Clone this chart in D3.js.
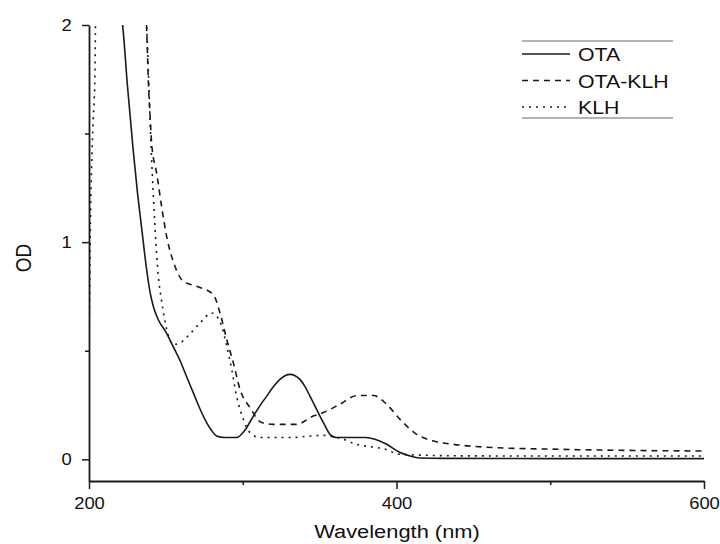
<!DOCTYPE html>
<html>
<head>
<meta charset="utf-8">
<script src="https://cdn.jsdelivr.net/npm/d3@7"></script>
<style>
  html, body { margin: 0; padding: 0; background: #fff; }
  svg { display: block; }
  text { font-family: "Liberation Sans", Arial, sans-serif; fill: #111; }
</style>
</head>
<body>
<svg id="chart" width="720" height="544"></svg>
<script>
// ---- data (wavelength nm, OD) ----
const seriesNames = ["OTA", "OTA-KLH", "KLH"];

const otaWavelength = [220, 222, 225, 228.6, 231.5, 234.5, 237, 239.7, 242, 245, 250.5, 255, 259.2, 263.5, 267.8, 272, 276.5, 280, 283, 288, 296, 301, 306.9, 311, 315.6, 320, 324.2, 327.5, 330.7, 334, 337.2, 340.5, 343.7, 347, 350.2, 353.5, 356.7, 361, 370, 380, 386, 393.6, 402, 408.8, 415, 430, 500, 600];
const otaOD = [2.1, 1.99, 1.72, 1.434, 1.23, 1.05, 0.9, 0.77, 0.7, 0.644, 0.58, 0.515, 0.455, 0.38, 0.307, 0.235, 0.169, 0.13, 0.107, 0.10, 0.10, 0.13, 0.199, 0.245, 0.291, 0.335, 0.368, 0.385, 0.391, 0.385, 0.368, 0.335, 0.291, 0.245, 0.199, 0.155, 0.115, 0.10, 0.10, 0.10, 0.092, 0.069, 0.032, 0.015, 0.006, 0.004, 0.003, 0.003];

const otaKlhWavelength = [236.5, 237.5, 238.6, 239.7, 240.8, 244, 247.2, 250.5, 255.9, 261.3, 270, 280.8, 285.2, 289.6, 293.9, 298.2, 304.7, 312.3, 319.9, 335, 345.9, 352.4, 363, 374, 385, 393.6, 402.3, 413.1, 424, 437, 463, 506, 600];
const otaKlhOD = [2.1, 1.985, 1.74, 1.586, 1.45, 1.318, 1.165, 1.027, 0.889, 0.82, 0.797, 0.759, 0.674, 0.552, 0.444, 0.322, 0.238, 0.169, 0.161, 0.161, 0.199, 0.215, 0.253, 0.293, 0.294, 0.253, 0.184, 0.115, 0.084, 0.069, 0.054, 0.046, 0.038];

const klhWavelength = [200, 200.7, 202.6, 203.8, 204.3, 205, 236, 237.5, 240.5, 243, 245, 247.2, 250.5, 254.8, 259.2, 265.7, 272.2, 279.8, 283, 286.3, 289.6, 292.8, 296, 300.4, 304.7, 311.2, 330.7, 343.7, 352, 365.4, 374, 382.8, 391.4, 402.3, 421.8, 439, 500, 600];
const klhOD = [0.47, 0.97, 1.54, 1.75, 2.05, 2.2, 2.2, 1.99, 1.42, 1.06, 0.85, 0.73, 0.6, 0.529, 0.536, 0.578, 0.628, 0.674, 0.659, 0.613, 0.521, 0.414, 0.291, 0.184, 0.123, 0.10, 0.10, 0.107, 0.11, 0.092, 0.069, 0.058, 0.049, 0.023, 0.018, 0.016, 0.015, 0.015];

const xMajorTicks = [200, 400, 600];
const xMinorTicks = [300, 500];
const yMajorTicks = [0, 1, 2];
const yMinorTicks = [0.5, 1.5];

// ---- layout ----
const svg = d3.select("#chart");
const plotLeft = 89, plotRight = 704, plotTop = 25, plotBottom = 481;
const stretch = 1.15;

const x = d3.scaleLinear().domain([200, 600]).range([plotLeft, plotRight]);
const y = d3.scaleLinear().domain([-0.1, 2]).range([plotBottom, plotTop]);

// ---- axes ----
svg.append("g").attr("transform", `translate(0,${plotBottom})`)
  .call(d3.axisBottom(x).tickValues(xMajorTicks).tickFormat(d3.format("d")).tickSize(8).tickSizeOuter(0).tickPadding(9));
const xMinor = svg.append("g").attr("transform", `translate(0,${plotBottom})`)
  .call(d3.axisBottom(x).tickValues(xMinorTicks).tickFormat("").tickSize(4).tickSizeOuter(0));
xMinor.select(".domain").remove();

svg.append("g").attr("transform", `translate(${plotLeft},0)`)
  .call(d3.axisLeft(y).tickValues(yMajorTicks).tickFormat(d3.format("d")).tickSize(7).tickSizeOuter(0).tickPadding(8));
const yMinor = svg.append("g").attr("transform", `translate(${plotLeft},0)`)
  .call(d3.axisLeft(y).tickValues(yMinorTicks).tickFormat("").tickSize(4).tickSizeOuter(0));
yMinor.select(".domain").remove();

svg.selectAll(".domain").attr("stroke", "#1a1a1a").attr("stroke-width", 1.8);
svg.selectAll(".tick line").attr("stroke", "#1a1a1a").attr("stroke-width", 1.5);
svg.selectAll(".tick text")
  .attr("font-family", "Liberation Sans, Arial, sans-serif")
  .attr("font-size", 16)
  .attr("fill", "#111")
  .attr("transform", `scale(${stretch},1)`);

// ---- axis titles ----
svg.append("text")
  .attr("transform", `translate(397,538) scale(${stretch},1)`)
  .attr("text-anchor", "middle")
  .attr("font-size", 19)
  .text("Wavelength (nm)");

svg.append("text")
  .attr("transform", `translate(31,258) scale(${stretch},1) rotate(-90)`)
  .attr("text-anchor", "middle")
  .attr("font-size", 19)
  .text("OD");

// ---- curves ----
svg.append("defs").append("clipPath").attr("id", "plotClip")
  .append("rect").attr("x", plotLeft).attr("y", plotTop).attr("width", plotRight - plotLeft + 2).attr("height", plotBottom - plotTop);

const line = d3.line().x(d => x(d[0])).y(d => y(d[1])).curve(d3.curveMonotoneX);
const series = [
  { name: seriesNames[0], pts: d3.zip(otaWavelength, otaOD), dash: null },
  { name: seriesNames[1], pts: d3.zip(otaKlhWavelength, otaKlhOD), dash: "6,5" },
  { name: seriesNames[2], pts: d3.zip(klhWavelength, klhOD), dash: "2,5" }
];

const plot = svg.append("g").attr("clip-path", "url(#plotClip)");
series.forEach(s => {
  plot.append("path")
    .attr("d", line(s.pts))
    .attr("fill", "none")
    .attr("stroke", "#1a1a1a")
    .attr("stroke-width", 1.6)
    .attr("stroke-dasharray", s.dash);
});

// ---- legend ----
const lg = svg.append("g");
lg.append("line").attr("x1", 522).attr("x2", 673).attr("y1", 41).attr("y2", 41)
  .attr("stroke", "#999").attr("stroke-width", 1.5);
lg.append("line").attr("x1", 522).attr("x2", 673).attr("y1", 118).attr("y2", 118)
  .attr("stroke", "#999").attr("stroke-width", 1.5);
const rowY = [54, 80.5, 107];
series.forEach((s, i) => {
  lg.append("line").attr("x1", 522).attr("x2", 570).attr("y1", rowY[i]).attr("y2", rowY[i])
    .attr("stroke", "#1a1a1a").attr("stroke-width", 1.6).attr("stroke-dasharray", s.dash);
  lg.append("text")
    .attr("transform", `translate(578,${rowY[i] + 7}) scale(${stretch},1)`)
    .attr("font-size", 18.5)
    .text(s.name);
});
</script>
</body>
</html>
